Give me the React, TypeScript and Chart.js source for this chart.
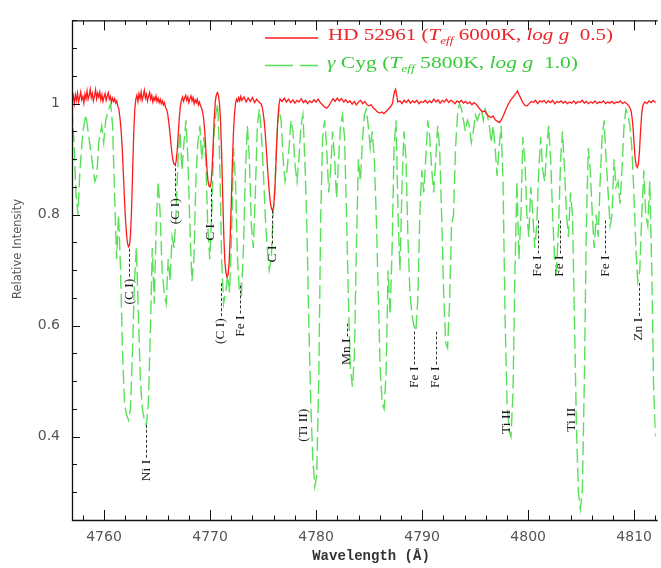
import React, { useEffect, useRef } from "react";
import { Chart, registerables } from "chart.js";
Chart.register(...registerables);

// HD 52961 spectrum: [wavelength (Å), relative intensity]
const hd52961: [number, number][] = [
  [4757.0,1.004],[4757.1,1.014],[4757.2,1.000],[4757.3,1.016],[4757.4,1.006],[4757.5,1.019],[4757.6,1.003],[4757.7,1.011],[4757.8,1.021],[4757.9,1.007],
  [4758.0,1.013],[4758.1,1.001],[4758.2,1.017],[4758.3,1.009],[4758.4,1.023],[4758.5,1.008],[4758.6,1.015],[4758.7,1.026],[4758.8,1.011],[4758.9,1.018],
  [4759.0,1.005],[4759.1,1.014],[4759.2,1.025],[4759.3,1.009],[4759.4,1.019],[4759.5,1.012],[4759.6,1.021],[4759.7,1.007],[4759.8,1.016],[4759.9,1.004],
  [4760.0,1.012],[4760.1,1.018],[4760.2,1.006],[4760.3,1.014],[4760.4,1.020],[4760.5,1.008],[4760.6,1.013],[4760.7,1.003],[4760.8,1.010],[4760.9,1.004],
  [4761.0,1.009],[4761.1,1.001],[4761.2,1.005],[4761.3,0.995],[4761.4,0.990],[4761.5,0.975],[4761.6,0.955],[4761.7,0.925],[4761.8,0.885],[4761.9,0.840],
  [4762.0,0.800],[4762.1,0.770],[4762.2,0.750],[4762.3,0.742],[4762.4,0.745],[4762.5,0.765],[4762.6,0.810],[4762.7,0.880],[4762.8,0.945],[4762.9,0.990],
  [4763.0,1.008],[4763.1,1.015],[4763.2,1.004],[4763.3,1.018],[4763.4,1.009],[4763.5,1.021],[4763.6,1.006],[4763.7,1.014],[4763.8,1.024],[4763.9,1.010],
  [4764.0,1.017],[4764.1,1.005],[4764.2,1.013],[4764.3,1.020],[4764.4,1.008],[4764.5,1.015],[4764.6,1.003],[4764.7,1.011],[4764.8,1.006],[4764.9,1.014],
  [4765.0,1.004],[4765.1,1.010],[4765.2,1.002],[4765.3,1.008],[4765.4,1.000],[4765.5,1.005],[4765.6,0.998],[4765.7,1.002],[4765.8,0.993],[4765.9,0.990],
  [4766.0,0.982],[4766.1,0.968],[4766.2,0.950],[4766.3,0.930],[4766.4,0.912],[4766.5,0.898],[4766.6,0.891],[4766.7,0.890],[4766.8,0.896],[4766.9,0.915],
  [4767.0,0.945],[4767.1,0.975],[4767.2,0.995],[4767.3,1.006],[4767.4,1.012],[4767.5,1.004],[4767.6,1.010],[4767.7,1.015],[4767.8,1.006],[4767.9,1.012],
  [4768.0,1.002],[4768.1,1.009],[4768.2,1.014],[4768.3,1.005],[4768.4,1.011],[4768.5,1.000],[4768.6,1.007],[4768.7,1.002],[4768.8,1.008],[4768.9,0.998],
  [4769.0,1.003],[4769.1,0.996],[4769.2,0.992],[4769.3,0.985],[4769.4,0.972],[4769.5,0.950],[4769.6,0.918],[4769.7,0.885],[4769.8,0.862],[4769.9,0.852],
  [4770.0,0.850],[4770.1,0.858],[4770.2,0.885],[4770.3,0.930],[4770.4,0.975],[4770.5,1.005],[4770.6,1.016],[4770.7,1.020],[4770.8,1.014],[4770.9,0.998],
  [4771.0,0.965],[4771.1,0.905],[4771.2,0.830],[4771.3,0.760],[4771.4,0.715],[4771.5,0.695],[4771.6,0.688],[4771.7,0.692],[4771.8,0.715],[4771.9,0.760],
  [4772.0,0.820],[4772.1,0.890],[4772.2,0.945],[4772.3,0.980],[4772.4,1.000],[4772.5,1.008],[4772.6,1.004],[4772.7,1.011],[4772.8,1.005],[4772.9,1.013],
  [4773.0,1.006],[4773.2,1.012],[4773.4,1.003],[4773.6,1.010],[4773.8,1.004],[4774.0,1.011],[4774.2,1.002],[4774.4,1.008],[4774.6,1.003],[4774.8,1.000],
  [4774.9,0.995],[4775.0,0.985],[4775.1,0.970],[4775.2,0.948],[4775.3,0.920],[4775.4,0.890],[4775.5,0.862],[4775.6,0.838],[4775.7,0.820],[4775.8,0.810],
  [4775.9,0.808],[4776.0,0.815],[4776.1,0.840],[4776.2,0.885],[4776.3,0.935],[4776.4,0.975],[4776.5,0.998],[4776.6,1.008],[4776.8,1.004],[4777.0,1.010],
  [4777.2,1.003],[4777.4,1.008],[4777.6,1.002],[4777.8,1.007],[4778.0,1.001],[4778.2,1.006],[4778.4,1.003],[4778.6,1.009],[4778.8,1.002],[4779.0,1.006],
  [4779.2,1.000],[4779.4,1.005],[4779.6,1.002],[4779.8,1.007],[4780.0,1.003],[4780.2,1.008],[4780.4,1.002],[4780.6,0.998],[4780.8,0.994],[4781.0,0.992],
  [4781.2,0.996],[4781.4,1.003],[4781.6,1.009],[4781.8,1.004],[4782.0,1.010],[4782.2,1.005],[4782.4,1.009],[4782.6,1.003],[4782.8,1.007],[4783.0,1.002],
  [4783.2,1.005],[4783.4,0.999],[4783.6,1.004],[4783.8,0.998],[4784.0,1.003],[4784.2,1.006],[4784.4,1.000],[4784.6,1.004],[4784.8,0.998],[4785.0,0.996],
  [4785.2,0.998],[4785.4,0.992],[4785.6,0.989],[4785.8,0.985],[4786.0,0.983],[4786.2,0.985],[4786.4,0.982],[4786.6,0.986],[4786.8,0.990],[4787.0,0.994],
  [4787.2,1.000],[4787.3,1.012],[4787.4,1.022],[4787.5,1.026],[4787.6,1.016],[4787.7,1.003],[4787.9,1.005],[4788.1,1.000],[4788.3,1.006],[4788.5,1.002],
  [4788.7,1.007],[4788.9,1.001],[4789.1,1.005],[4789.3,1.002],[4789.5,1.006],[4789.7,1.000],[4789.9,1.004],[4790.1,1.002],[4790.3,1.006],[4790.5,1.001],
  [4790.7,1.005],[4790.9,1.002],[4791.1,1.008],[4791.3,1.003],[4791.5,1.007],[4791.7,1.001],[4791.9,1.006],[4792.1,1.003],[4792.3,1.008],[4792.5,1.002],
  [4792.7,1.006],[4792.9,1.004],[4793.1,1.000],[4793.3,1.005],[4793.5,1.002],[4793.7,1.006],[4793.9,1.001],[4794.1,1.004],[4794.3,1.000],[4794.5,1.003],
  [4794.7,0.998],[4794.9,1.002],[4795.1,0.999],[4795.3,0.994],[4795.5,0.989],[4795.7,0.985],[4795.9,0.987],[4796.1,0.981],[4796.3,0.977],[4796.5,0.975],
  [4796.7,0.978],[4796.9,0.971],[4797.1,0.968],[4797.3,0.966],[4797.5,0.972],[4797.7,0.980],[4797.9,0.990],[4798.1,0.998],[4798.3,1.005],[4798.5,1.010],
  [4798.7,1.015],[4798.9,1.020],[4799.0,1.023],[4799.1,1.018],[4799.3,1.010],[4799.5,1.002],[4799.7,0.997],[4799.9,0.996],[4800.1,1.000],[4800.3,1.004],
  [4800.5,1.002],[4800.7,1.006],[4800.9,1.000],[4801.1,1.005],[4801.3,1.003],[4801.5,1.006],[4801.7,1.001],[4801.9,1.005],[4802.1,1.002],[4802.3,1.006],
  [4802.5,1.000],[4802.7,1.004],[4802.9,1.002],[4803.1,1.005],[4803.3,1.001],[4803.5,1.004],[4803.7,1.000],[4803.9,1.003],[4804.1,1.001],[4804.3,1.005],
  [4804.5,1.000],[4804.7,1.004],[4804.9,1.002],[4805.1,1.006],[4805.3,1.001],[4805.5,1.004],[4805.7,1.000],[4805.9,1.003],[4806.1,1.001],[4806.3,1.005],
  [4806.5,1.000],[4806.7,1.003],[4806.9,1.002],[4807.1,1.005],[4807.3,1.000],[4807.5,1.003],[4807.7,1.001],[4807.9,1.004],[4808.1,1.000],[4808.3,1.003],
  [4808.5,1.002],[4808.7,1.005],[4808.9,1.000],[4809.1,1.003],[4809.3,1.000],[4809.5,0.996],[4809.7,0.988],[4809.8,0.975],[4809.9,0.955],[4810.0,0.925],
  [4810.1,0.900],[4810.2,0.888],[4810.3,0.885],[4810.4,0.892],[4810.5,0.915],[4810.6,0.950],[4810.7,0.980],[4810.8,0.996],[4811.0,1.003],[4811.2,1.000],
  [4811.4,1.005],[4811.6,1.002],[4811.8,1.006],[4812.0,1.002],[4812.2,1.004],
];

// gamma Cyg spectrum: [wavelength (Å), relative intensity]
const gammaCyg: [number, number][] = [
  [4756.98,0.99],[4757.17,0.93],[4757.35,0.84],[4757.54,0.80],[4757.73,0.88],[4758.01,0.95],[4758.29,0.98],[4758.57,0.94],[4758.85,0.90],[4759.13,0.86],
  [4759.32,0.87],[4759.50,0.93],[4759.78,0.96],[4759.97,0.93],[4760.16,0.97],[4760.44,0.99],[4760.63,1.00],[4760.81,0.96],[4761.00,0.83],[4761.19,0.72],
  [4761.37,0.80],[4761.56,0.70],[4761.75,0.55],[4761.93,0.46],[4762.12,0.44],[4762.31,0.43],[4762.49,0.45],[4762.68,0.55],[4762.87,0.68],[4763.05,0.74],
  [4763.24,0.62],[4763.43,0.50],[4763.62,0.45],[4763.80,0.43],[4763.99,0.42],[4764.18,0.46],[4764.36,0.58],[4764.55,0.74],[4764.74,0.64],[4764.92,0.78],
  [4765.11,0.86],[4765.30,0.80],[4765.48,0.70],[4765.67,0.66],[4765.86,0.64],[4766.05,0.72],[4766.23,0.68],[4766.42,0.76],[4766.61,0.74],[4766.79,0.80],
  [4766.98,0.90],[4767.17,0.95],[4767.35,0.88],[4767.54,0.93],[4767.73,0.97],[4767.91,0.90],[4768.10,0.78],[4768.29,0.68],[4768.48,0.72],[4768.66,0.86],
  [4768.85,0.93],[4769.04,0.96],[4769.22,0.90],[4769.41,0.94],[4769.60,0.90],[4769.78,0.78],[4769.97,0.72],[4770.16,0.80],[4770.35,0.94],[4770.53,0.98],
  [4770.72,1.00],[4770.91,0.90],[4771.09,0.72],[4771.28,0.64],[4771.47,0.66],[4771.65,0.69],[4771.84,0.66],[4772.03,0.76],[4772.21,0.92],[4772.40,0.86],
  [4772.59,0.72],[4772.77,0.66],[4772.96,0.655],[4773.15,0.74],[4773.34,0.88],[4773.52,0.96],[4773.71,0.90],[4773.90,0.78],[4774.08,0.74],[4774.27,0.84],
  [4774.46,0.96],[4774.64,0.99],[4774.83,0.95],[4775.02,0.88],[4775.20,0.80],[4775.39,0.74],[4775.58,0.70],[4775.77,0.72],[4775.95,0.80],[4776.14,0.86],
  [4776.33,0.95],[4776.51,0.99],[4776.70,0.97],[4776.89,0.90],[4777.07,0.86],[4777.26,0.88],[4777.45,0.92],[4777.63,0.97],[4777.82,0.95],[4778.01,0.89],
  [4778.20,0.86],[4778.38,0.90],[4778.57,0.96],[4778.76,0.98],[4778.94,0.90],[4779.13,0.78],[4779.32,0.60],[4779.50,0.46],[4779.69,0.36],[4779.88,0.31],
  [4780.06,0.33],[4780.25,0.50],[4780.44,0.80],[4780.62,0.94],[4780.81,0.97],[4781.00,0.92],[4781.19,0.84],[4781.37,0.88],[4781.56,0.95],[4781.75,0.90],
  [4781.93,0.83],[4782.12,0.90],[4782.31,0.96],[4782.49,0.98],[4782.68,0.94],[4782.87,0.80],[4783.06,0.64],[4783.24,0.52],[4783.43,0.49],[4783.62,0.55],
  [4783.80,0.74],[4783.99,0.90],[4784.18,0.86],[4784.36,0.93],[4784.55,0.98],[4784.74,0.99],[4784.92,0.96],[4785.11,0.92],[4785.30,0.95],[4785.49,0.90],
  [4785.67,0.80],[4785.86,0.66],[4786.05,0.52],[4786.23,0.46],[4786.42,0.45],[4786.61,0.52],[4786.79,0.70],[4786.98,0.62],[4787.17,0.74],[4787.35,0.92],
  [4787.54,0.97],[4787.73,0.80],[4787.91,0.70],[4788.10,0.85],[4788.29,0.95],[4788.48,0.90],[4788.66,0.76],[4788.85,0.66],[4789.04,0.62],[4789.22,0.60],
  [4789.41,0.59],[4789.60,0.65],[4789.78,0.80],[4789.97,0.88],[4790.16,0.84],[4790.34,0.90],[4790.53,0.97],[4790.72,0.94],[4790.91,0.88],[4791.09,0.84],
  [4791.28,0.90],[4791.47,0.96],[4791.65,0.92],[4791.84,0.80],[4792.03,0.66],[4792.21,0.57],[4792.40,0.56],[4792.59,0.64],[4792.77,0.78],[4792.96,0.80],
  [4793.15,0.92],[4793.34,0.98],[4793.52,1.00],[4793.71,0.99],[4793.90,0.97],[4794.08,0.95],[4794.27,0.97],[4794.46,0.96],[4794.64,0.93],[4794.83,0.95],
  [4795.02,0.98],[4795.20,0.97],[4795.39,0.98],[4795.58,0.99],[4795.77,0.97],[4795.95,0.99],[4796.14,0.98],[4796.33,0.96],[4796.51,0.93],[4796.70,0.96],
  [4796.89,0.92],[4797.07,0.87],[4797.26,0.92],[4797.45,0.96],[4797.63,0.86],[4797.82,0.62],[4798.01,0.46],[4798.20,0.41],[4798.38,0.40],[4798.57,0.48],
  [4798.76,0.70],[4798.94,0.86],[4799.13,0.72],[4799.32,0.80],[4799.50,0.94],[4799.69,0.90],[4799.88,0.80],[4800.06,0.76],[4800.25,0.85],[4800.44,0.80],
  [4800.62,0.74],[4800.81,0.78],[4801.00,0.88],[4801.19,0.94],[4801.37,0.88],[4801.56,0.86],[4801.75,0.92],[4801.93,0.96],[4802.12,0.90],[4802.31,0.80],
  [4802.49,0.72],[4802.68,0.70],[4802.87,0.78],[4803.06,0.90],[4803.24,0.95],[4803.43,0.88],[4803.62,0.80],[4803.80,0.76],[4803.99,0.84],[4804.18,0.80],
  [4804.36,0.62],[4804.55,0.42],[4804.74,0.30],[4804.92,0.27],[4805.11,0.30],[4805.30,0.50],[4805.49,0.78],[4805.67,0.92],[4805.86,0.88],[4806.05,0.80],
  [4806.23,0.74],[4806.42,0.80],[4806.61,0.76],[4806.79,0.86],[4806.98,0.94],[4807.17,0.97],[4807.35,0.90],[4807.54,0.84],[4807.73,0.78],[4807.91,0.80],
  [4808.10,0.90],[4808.29,0.85],[4808.48,0.86],[4808.66,0.82],[4808.85,0.88],[4809.04,0.96],[4809.22,0.99],[4809.41,0.98],[4809.60,0.96],[4809.78,0.92],
  [4809.97,0.84],[4810.16,0.74],[4810.34,0.68],[4810.53,0.70],[4810.72,0.80],[4810.91,0.88],[4811.09,0.80],[4811.28,0.78],[4811.47,0.86],[4811.66,0.70],
  [4811.84,0.48],[4812.03,0.40],[4812.22,0.42],
];

const xTickValues = [4760, 4770, 4780, 4790, 4800, 4810];
const yTickValues = [0.4, 0.6, 0.8, 1];

// Line identifications: label, wavelength, value at label start, value at leader end
const lineIds: { text: string; wl: number; from: number; to: number | null }[] = [
  { text: "(C I)", wl: 4762.40, from: 0.638, to: 0.739 },
  { text: "Ni I", wl: 4763.99, from: 0.320, to: 0.421 },
  { text: "(C I)", wl: 4766.70, from: 0.783, to: 0.890 },
  { text: "C I", wl: 4770.05, from: 0.753, to: 0.850 },
  { text: "(C I)", wl: 4771.00, from: 0.567, to: 0.677 },
  { text: "Fe I", wl: 4772.87, from: 0.580, to: 0.677 },
  { text: "C I", wl: 4775.86, from: 0.714, to: 0.809 },
  { text: "(Ti II)", wl: 4778.85, from: 0.391, to: null },
  { text: "Mn I", wl: 4782.87, from: 0.529, to: 0.608 },
  { text: "Fe I", wl: 4789.25, from: 0.488, to: 0.590 },
  { text: "Fe I", wl: 4791.28, from: 0.488, to: 0.589 },
  { text: "Ti II", wl: 4797.92, from: 0.405, to: null },
  { text: "Fe I", wl: 4800.90, from: 0.688, to: 0.792 },
  { text: "Fe I", wl: 4802.96, from: 0.688, to: 0.792 },
  { text: "Ti II", wl: 4804.08, from: 0.409, to: null },
  { text: "Fe I", wl: 4807.26, from: 0.688, to: 0.792 },
  { text: "Zn I", wl: 4810.43, from: 0.573, to: 0.677 },
];

const RED = "#ff1a1a";
const GREEN = "rgba(60,218,60,0.85)";

type Part = { t: string; it?: boolean; sub?: boolean };

function drawRich(ctx: CanvasRenderingContext2D, parts: Part[], x0: number, yb: number, targetW: number, color: string) {
  const fontOf = (p: Part) =>
    `${p.it ? "italic " : ""}${p.sub ? 10 : 16}px "Liberation Serif", "Times New Roman", serif`;
  let total = 0;
  const widths: number[] = [];
  for (const p of parts) {
    ctx.font = fontOf(p);
    const w = ctx.measureText(p.t).width;
    widths.push(w);
    total += w;
  }
  const sx = targetW / total;
  ctx.save();
  ctx.translate(x0, yb);
  ctx.scale(sx, 1);
  ctx.fillStyle = color;
  ctx.textAlign = "left";
  ctx.textBaseline = "alphabetic";
  let cx = 0;
  parts.forEach((p, i) => {
    ctx.font = fontOf(p);
    ctx.fillText(p.t, cx, p.sub ? 3.5 : 0);
    cx += widths[i];
  });
  ctx.restore();
}

const overlay = {
  id: "overlay",
  afterDatasetsDraw(chart: any) {
    const { ctx, chartArea: ca, scales } = chart;
    const x = scales.x;
    const y = scales.y;
    ctx.save();

    // frame
    ctx.strokeStyle = "#111";
    ctx.lineWidth = 1.3;
    ctx.setLineDash([]);
    ctx.beginPath();
    ctx.moveTo(ca.right + 2, ca.top + 0.5);
    ctx.lineTo(ca.left + 0.5, ca.top + 0.5);
    ctx.lineTo(ca.left + 0.5, ca.bottom + 0.5);
    ctx.lineTo(ca.right + 2, ca.bottom + 0.5);
    ctx.stroke();

    // ticks
    ctx.lineWidth = 1;
    ctx.beginPath();
    for (let v = 4758; v <= 4812; v += 2) {
      const px = Math.round(x.getPixelForValue(v)) + 0.5;
      const len = v % 10 === 0 ? 10 : 4.5;
      ctx.moveTo(px, ca.bottom);
      ctx.lineTo(px, ca.bottom - len);
      ctx.moveTo(px, ca.top);
      ctx.lineTo(px, ca.top + len);
    }
    for (let i = 6; i <= 23; i++) {
      const py = Math.round(y.getPixelForValue(i * 0.05)) + 0.5;
      const len = i % 4 === 0 ? 8 : 5;
      ctx.moveTo(ca.left, py);
      ctx.lineTo(ca.left + len, py);
    }
    ctx.stroke();

    // line identifications
    ctx.font = '13.5px "Liberation Serif", "Times New Roman", serif';
    ctx.fillStyle = "#1a1a1a";
    ctx.strokeStyle = "#333";
    ctx.lineWidth = 1;
    for (const lb of lineIds) {
      const px = x.getPixelForValue(lb.wl);
      const pyB = y.getPixelForValue(lb.from);
      const w = ctx.measureText(lb.text).width;
      ctx.save();
      ctx.translate(px, pyB);
      ctx.rotate(-Math.PI / 2);
      ctx.textAlign = "left";
      ctx.textBaseline = "middle";
      ctx.fillText(lb.text, 0, 0);
      ctx.restore();
      if (lb.to !== null) {
        const top = y.getPixelForValue(lb.to);
        ctx.setLineDash([3, 2]);
        ctx.beginPath();
        ctx.moveTo(Math.round(px) + 0.5, pyB - w - 2);
        ctx.lineTo(Math.round(px) + 0.5, top);
        ctx.stroke();
        ctx.setLineDash([]);
      }
    }

    // legend
    ctx.lineWidth = 1.3;
    ctx.strokeStyle = RED;
    ctx.beginPath();
    ctx.moveTo(265, 38);
    ctx.lineTo(318, 38);
    ctx.stroke();
    ctx.strokeStyle = GREEN;
    ctx.lineWidth = 1.4;
    ctx.setLineDash([28, 7]);
    ctx.beginPath();
    ctx.moveTo(265, 65.5);
    ctx.lineTo(318, 65.5);
    ctx.stroke();
    ctx.setLineDash([]);

    drawRich(ctx, [
      { t: "HD 52961 (" }, { t: "T", it: true }, { t: "eff", it: true, sub: true },
      { t: " 6000K, " }, { t: "log g", it: true }, { t: "  0.5)" },
    ], 328, 40, 285, "#e8262a");
    drawRich(ctx, [
      { t: "γ", it: true }, { t: " Cyg (" }, { t: "T", it: true }, { t: "eff", it: true, sub: true },
      { t: " 5800K, " }, { t: "log g", it: true }, { t: "  1.0)" },
    ], 327, 68.3, 251, "#38cc38");

    // axis titles
    ctx.fillStyle = "#555";
    ctx.font = '11.5px "DejaVu Sans", sans-serif';
    ctx.save();
    ctx.translate(18, 249);
    ctx.rotate(-Math.PI / 2);
    ctx.textAlign = "center";
    ctx.textBaseline = "middle";
    ctx.fillText("Relative Intensity", 0, 0);
    ctx.restore();

    ctx.fillStyle = "#333";
    ctx.font = 'bold 14px "Liberation Mono", "DejaVu Sans Mono", monospace';
    ctx.textAlign = "center";
    ctx.textBaseline = "middle";
    ctx.fillText("Wavelength (Å)", 371, 556);

    ctx.restore();
  },
};

export default function App() {
  const ref = useRef<HTMLCanvasElement | null>(null);
  useEffect(() => {
    if (!ref.current) return;
    const chart = new Chart(ref.current, {
      type: "line",
      data: {
        datasets: [
          {
            label: "HD 52961",
            data: hd52961.map(([wl, v]) => ({ x: wl, y: v })),
            borderColor: RED,
            borderWidth: 1.3,
            pointRadius: 0,
            tension: 0,
            fill: false,
            order: 0,
          },
          {
            label: "γ Cyg",
            data: gammaCyg.map(([wl, v]) => ({ x: wl, y: v })),
            borderColor: GREEN,
            borderWidth: 1.4,
            borderDash: [14, 5],
            pointRadius: 0,
            tension: 0,
            fill: false,
            order: 1,
          },
        ],
      },
      options: {
        animation: false,
        responsive: false,
        devicePixelRatio: 1,
        events: [],
        layout: { padding: { top: 9, left: 0, right: 0, bottom: 0 } },
        plugins: { legend: { display: false }, tooltip: { enabled: false }, title: { display: false } },
        scales: {
          x: {
            type: "linear",
            min: 4756.98,
            max: 4812.03,
            grid: { display: false, drawTicks: false },
            border: { display: false },
            afterBuildTicks: (s: any) => { s.ticks = xTickValues.map((v) => ({ value: v })); },
            afterFit: (s: any) => { s.height = 48; },
            ticks: {
              padding: 9,
              maxRotation: 0,
              autoSkip: false,
              color: "#555",
              font: { family: "DejaVu Sans", size: 14 },
              callback: (v: any) => String(v),
            },
          },
          y: {
            type: "linear",
            min: 0.25,
            max: 1.15,
            grid: { display: false, drawTicks: false },
            border: { display: false },
            afterBuildTicks: (s: any) => { s.ticks = yTickValues.map((v) => ({ value: v })); },
            afterFit: (s: any) => { s.width = 72; },
            ticks: {
              padding: 12,
              color: "#555",
              font: { family: "DejaVu Sans", size: 14 },
              callback: (v: any) => (v === 1 ? "1" : Number(v).toFixed(1)),
            },
          },
        },
      },
      plugins: [overlay],
    });
    return () => chart.destroy();
  }, []);
  return (
    <div style={{ position: "fixed", left: 0, top: 0, width: 661, height: 568, background: "#fff" }}>
      <canvas ref={ref} width={661} height={568} style={{ display: "block" }} />
    </div>
  );
}
